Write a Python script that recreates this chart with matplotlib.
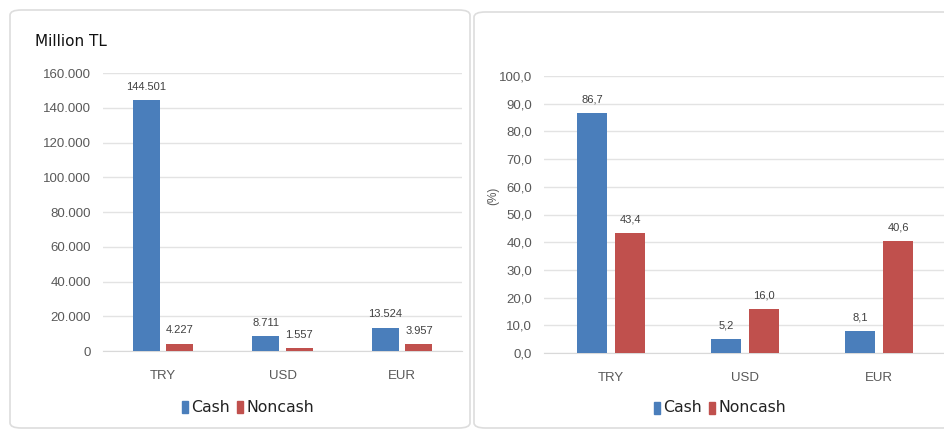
import matplotlib
matplotlib.use("Agg")
import matplotlib.pyplot as plt
from matplotlib.patches import FancyBboxPatch, Rectangle
from matplotlib.ticker import FuncFormatter
import numpy as np

categories = ["TRY", "USD", "EUR"]
amount_cash = [144501, 8711, 13524]
amount_noncash = [4227, 1557, 3957]
share_cash = [86.7, 5.2, 8.1]
share_noncash = [43.4, 16.0, 40.6]
amount_ticks = [0, 20000, 40000, 60000, 80000, 100000, 120000, 140000, 160000]
share_ticks = [0, 10, 20, 30, 40, 50, 60, 70, 80, 90, 100]

BLUE = "#4A7EBB"
RED = "#C0504D"
GRID = "#E3E3E3"
TICK = "#595959"
NARROW = ["Liberation Sans Narrow", "Liberation Sans", "DejaVu Sans"]

fig = plt.figure(figsize=(9.44, 4.30), dpi=100)
fig.patch.set_facecolor("white")

# rounded panel frames, kept behind the axes
for (x0, y0, w, h) in [(10, 10, 460, 418), (474, 12, 480, 416)]:
    fig.patches.append(FancyBboxPatch(
        (x0 / 944, 1 - (y0 + h) / 430), w / 944, h / 430,
        boxstyle="round,pad=0,rounding_size=0.012",
        transform=fig.transFigure, facecolor="white",
        edgecolor="#DDDDDD", linewidth=1.2, zorder=-5))


def thousands(v):
    return f"{int(round(v)):,}".replace(",", ".")


def decimal_comma(v):
    return f"{v:.1f}".replace(".", ",")


def draw_panel(ax, cash, noncash, ticks, fmt, offset, width):
    x = np.arange(len(categories))
    b1 = ax.bar(x - offset, cash, width, color=BLUE, zorder=3)
    b2 = ax.bar(x + offset, noncash, width, color=RED, zorder=3)
    for bars, vals in [(b1, cash), (b2, noncash)]:
        for rect, v in zip(bars, vals):
            ax.annotate(fmt(v), (rect.get_x() + rect.get_width() / 2, v),
                        xytext=(0, 6), textcoords="offset points",
                        ha="center", va="bottom", fontsize=8,
                        color="#404040", family=NARROW)
    ax.set_xlim(-0.5, 2.5)
    ax.set_ylim(ticks[0], ticks[-1])
    ax.set_yticks(ticks)
    ax.yaxis.set_major_formatter(FuncFormatter(lambda v, p: fmt(v)))
    ax.set_xticks(x)
    ax.set_xticklabels(categories)
    ax.grid(axis="y", color=GRID, linewidth=1, zorder=0)
    ax.set_axisbelow(True)
    for s in ["top", "right", "left"]:
        ax.spines[s].set_visible(False)
    ax.spines["bottom"].set_color("#D9D9D9")
    ax.tick_params(axis="both", length=0, colors=TICK, labelsize=9.5)
    ax.tick_params(axis="y", pad=8.5)
    ax.tick_params(axis="x", pad=14)
    for lab in ax.get_xticklabels() + ax.get_yticklabels():
        lab.set_family(NARROW)
    ax.set_facecolor("none")
    ax.set_zorder(2)


def draw_legend(x, cy, gap):
    items = [("Cash", BLUE), ("Noncash", RED)]
    for name, col in items:
        fig.patches.append(Rectangle((x / 944, 1 - (cy + 6) / 430),
                                     6 / 944, 12 / 430, color=col,
                                     transform=fig.transFigure, zorder=3))
        fig.text((x + 9) / 944, 1 - cy / 430, name, fontsize=11.3,
                 color="#222222", va="center", ha="left")
        x += 9 + (len(name) * 8.5) + gap


ax1 = fig.add_axes([103 / 944, 1 - 351 / 430, (462 - 103) / 944, (351 - 73) / 430])
draw_panel(ax1, amount_cash, amount_noncash, amount_ticks, thousands, 0.14, 0.225)
fig.text(35 / 944, 1 - 42 / 430, "Million TL", fontsize=11, color="#111111",
         va="center", ha="left")

ax2 = fig.add_axes([544 / 944, 1 - 353 / 430, 402 / 944, (353 - 76) / 430])
draw_panel(ax2, share_cash, share_noncash, share_ticks, decimal_comma, 0.142, 0.224)
fig.text(493 / 944, 1 - 196 / 430, "(%)", fontsize=8.5, color=TICK,
         rotation=90, va="center", ha="center", family=NARROW)

draw_legend(182, 407, 12)
draw_legend(654, 408, 12)

fig.savefig("out.png", dpi=100, facecolor="white")
